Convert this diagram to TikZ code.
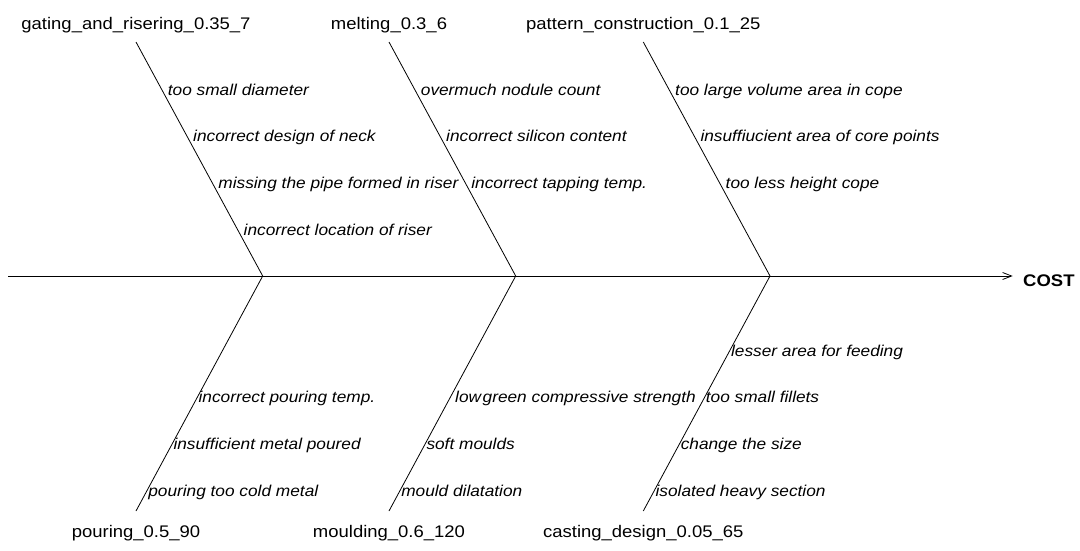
\documentclass[tikz,border=0pt]{standalone}
\usepackage{fontspec}
\setmainfont{Liberation Sans}[FakeStretch=1.1]
\usetikzlibrary{arrows.meta}
\newcommand{\catfont}{\fontsize{16.8pt}{20pt}\selectfont}
\newcommand{\causefont}{\fontsize{15.7pt}{19pt}\selectfont\itshape}
\newcommand{\effectfont}{\fontsize{16.8pt}{20pt}\selectfont\bfseries}
\tikzset{
  bone/.style={line width=0.8pt},
  spine/.style={line width=0.9pt, -{Straight Barb[length=9pt,width=7pt,line width=0.8pt]}},
  catlabel/.style={anchor=base, inner sep=0pt, font=\catfont},
  cause/.style={anchor=base west, inner sep=0pt, font=\causefont},
  effect/.style={anchor=base west, inner sep=0pt, font=\effectfont}
}
\begin{document}
\begin{tikzpicture}[x=1pt,y=-1pt]
\useasboundingbox (0,0) rectangle (1080,550);

% spine
\coordinate (tail) at (8.3,276);
\coordinate (head) at (1012.7,276);
\node[effect] (cost) at (1023,286) {COST};
\draw[spine] (tail) -- (head);

% junctions on the spine
\coordinate (j1) at (262.7,276);
\coordinate (j2) at (515.7,276);
\coordinate (j3) at (770,276);

% upper bone ends
\coordinate (t1) at (136,42);
\coordinate (t2) at (389,42);
\coordinate (t3) at (643.3,42);
% lower bone ends
\coordinate (b1) at (136,511);
\coordinate (b2) at (389,511);
\coordinate (b3) at (643.3,511);

\draw[bone] (t1) -- (j1) -- (b1);
\draw[bone] (t2) -- (j2) -- (b2);
\draw[bone] (t3) -- (j3) -- (b3);

% category labels
\node[catlabel] (gating) at (136,29) {gating\_and\_risering\_0.35\_7};
\node[catlabel] (melting) at (389,29) {melting\_0.3\_6};
\node[catlabel] (pattern) at (643.3,29) {pattern\_construction\_0.1\_25};
\node[catlabel] (pouring) at (136,537) {pouring\_0.5\_90};
\node[catlabel] (moulding) at (389,537) {moulding\_0.6\_120};
\node[catlabel] (casting) at (643.3,537) {casting\_design\_0.05\_65};

% causes: gating and risering
\node[cause] (g1) at (167.7,95) {too small diameter};
\node[cause] (g2) at (193.0,141.7) {incorrect design of neck};
\node[cause] (g3) at (218.2,188.3) {missing the pipe formed in riser};
\node[cause] (g4) at (243.5,235) {incorrect location of riser};

% causes: melting
\node[cause] (m1) at (420.7,95) {overmuch nodule count};
\node[cause] (m2) at (446.0,141.7) {incorrect silicon content};
\node[cause] (m3) at (471.2,188.3) {incorrect tapping temp.};

% causes: pattern construction
\node[cause] (p1) at (675.0,95) {too large volume area in cope};
\node[cause] (p2) at (700.3,141.7) {insuffiucient area of core points};
\node[cause] (p3) at (725.5,188.3) {too less height cope};

% causes: pouring
\node[cause] (r1) at (198.4,402.7) {incorrect pouring temp.};
\node[cause] (r2) at (173.3,449.3) {insufficient metal poured};
\node[cause] (r3) at (148.1,496) {pouring too cold metal};

% causes: moulding
\node[cause] (o1) at (455,402.7) {low\kern0.1em green compressive strength};
\node[cause] (o2) at (426.3,449.3) {soft moulds};
\node[cause] (o3) at (401.1,496) {mould dilatation};

% causes: casting design
\node[cause] (c1) at (730.9,356) {lesser area for feeding};
\node[cause] (c2) at (705.7,402.7) {too small fillets};
\node[cause] (c3) at (680.6,449.3) {change the size};
\node[cause] (c4) at (655.4,496) {isolated heavy section};
\end{tikzpicture}
\end{document}
